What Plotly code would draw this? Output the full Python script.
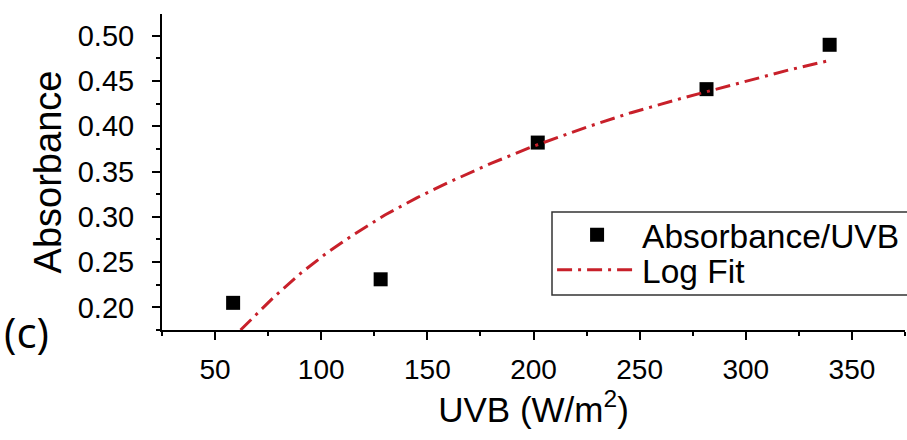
import plotly.graph_objects as go

# Measured data (Absorbance vs UVB)
uvb = [58.5, 128, 202, 281.5, 339.5]
absorbance = [0.205, 0.231, 0.382, 0.441, 0.490]

# Log fit curve
fit_x = [62, 70, 78, 90, 102, 115, 130, 145, 160, 180, 200, 225, 246, 270, 300, 320, 340]
fit_y = [0.175, 0.193, 0.212, 0.237, 0.259, 0.280, 0.302, 0.321, 0.338, 0.359, 0.378, 0.399,
         0.415, 0.431, 0.450, 0.462, 0.473]

x_ticks = [50, 100, 150, 200, 250, 300, 350]
y_ticks = [0.20, 0.25, 0.30, 0.35, 0.40, 0.45, 0.50]

FONT = "Liberation Sans, Arial, sans-serif"

fig = go.Figure()
fig.add_trace(go.Scatter(
    x=uvb, y=absorbance, mode="markers", name="Absorbance/UVB",
    marker=dict(symbol="square", size=14, color="black"), legend="legend",
))
fig.add_trace(go.Scatter(
    x=fit_x, y=fit_y, mode="lines", name="Log Fit",
    line=dict(color="#c8202a", width=3, dash="15px,6px,3px,6px"), legend="legend2",
))

leg_common = dict(
    xanchor="left", yanchor="middle", bgcolor="rgba(0,0,0,0)", borderwidth=0,
    font=dict(size=33.5, family=FONT, color="black"), itemwidth=80,
)

fig.update_layout(
    width=907, height=440,
    margin=dict(l=162, r=2, t=14, b=110, autoexpand=False),
    paper_bgcolor="white", plot_bgcolor="white",
    font=dict(family=FONT, color="black"),
    showlegend=True,
    legend=dict(x=0.525, y=0.3006, **leg_common),
    legend2=dict(x=0.525, y=0.1899, **leg_common),
)

# legend frame
fig.add_shape(
    type="rect", xref="paper", yref="paper", x0=0.5249, x1=1.01, y0=0.1108, y1=0.3734,
    line=dict(color="#333333", width=1.5), fillcolor="white", layer="below",
)

fig.update_xaxes(
    range=[25, 375], tickvals=x_ticks, ticktext=[str(v) for v in x_ticks],
    showline=True, linecolor="black", linewidth=2, mirror=False,
    ticks="outside", ticklen=8, tickwidth=2, tickcolor="black",
    minor=dict(ticks="outside", ticklen=4, tickwidth=2, tickcolor="black", dtick=25, tick0=25),
    showgrid=False, zeroline=False,
    tickfont=dict(size=28, family=FONT),
    ticklabelstandoff=5,
    title=dict(text="UVB (W/m<sup>2</sup>)", font=dict(size=35, family=FONT), standoff=14),
)
fig.update_yaxes(
    range=[0.175, 0.524], tickvals=y_ticks, ticktext=["%.2f" % v for v in y_ticks],
    showline=True, linecolor="black", linewidth=2, mirror=False,
    ticks="outside", ticklen=8, tickwidth=2, tickcolor="black",
    minor=dict(ticks="outside", ticklen=4, tickwidth=2, tickcolor="black", dtick=0.025, tick0=0.175),
    showgrid=False, zeroline=False,
    tickfont=dict(size=29, family=FONT),
    ticklabelstandoff=12,
    title=dict(text="Absorbance", font=dict(size=38, family=FONT), standoff=4),
)

fig.add_annotation(
    text="(c)", xref="paper", yref="paper", x=-0.182, y=-0.005,
    xanchor="center", yanchor="middle", showarrow=False,
    font=dict(size=42, family="Open Sans, Noto Sans, sans-serif", color="black"),
)

fig.write_html("out.html")
